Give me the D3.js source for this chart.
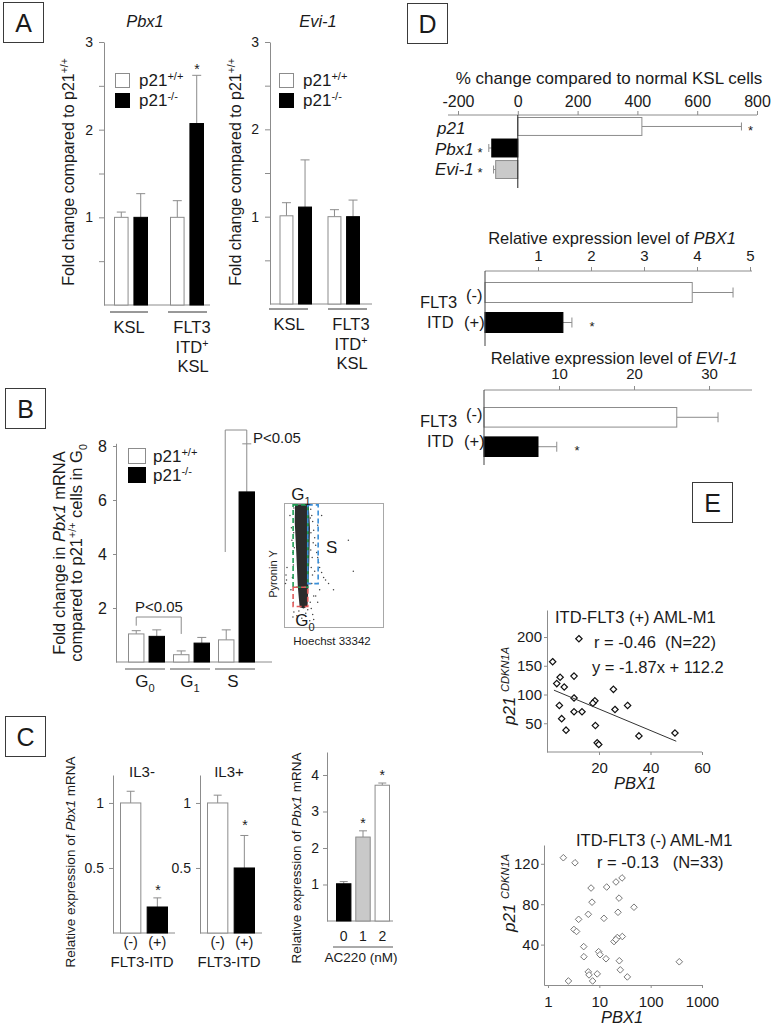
<!DOCTYPE html>
<html><head><meta charset="utf-8">
<script src="https://cdn.jsdelivr.net/npm/d3@7"></script>
<style>html,body{margin:0;padding:0;background:#fff;} svg{display:block;font-family:"Liberation Sans",Arial,sans-serif;}</style>
</head><body><svg id="c" width="774" height="1033"></svg>
<script>
// ===================== DATA =====================
// Panel A
const aGroups = ["KSL", "FLT3 ITD+ KSL"];
const genotypes = ["p21+/+", "p21-/-"];
const aTicks = [0.5, 1, 1.5, 2, 2.5, 3];
const pbx1Wt = [1.0, 1.0];
const pbx1WtErr = [0.06, 0.19];
const pbx1Ko = [1.0, 2.07];
const pbx1KoErr = [0.27, 0.55];
const evi1Wt = [1.01, 1.0];
const evi1WtErr = [0.15, 0.08];
const evi1Ko = [1.11, 1.0];
const evi1KoErr = [0.54, 0.19];
// Panel B
const phases = ["G0", "G1", "S"];
const bTicks = [2, 4, 6, 8];
const bWt = [1.04, 0.27, 0.82];
const bWtErr = [0.12, 0.14, 0.37];
const bKo = [0.95, 0.70, 6.30];
const bKoErr = [0.24, 0.21, 1.78];
// Panel B inset (flow cytometry, Hoechst vs Pyronin Y, arbitrary units)
const coreHoechst = [112, 180, 250, 262, 255, 246, 238, 200, 158, 140, 124, 108];
const corePyronin = [988, 990, 988, 800, 520, 320, 170, 150, 160, 320, 600, 850];
const dotHoechst = [60, 75, 80, 90, 95, 270, 280, 290, 300, 310, 320, 330, 340, 350, 360, 380, 400, 420, 450, 500, 85, 70, 280, 300, 265, 275, 320, 340, 360, 290, 95, 100, 310, 520, 700, 650, 30, 20, 25, 15, 90, 300, 340, 380, 260, 130, 220, 180, 150, 240, 270, 285, 295, 272, 288, 100, 98, 104, 265, 275];
const dotPyronin = [900, 800, 700, 600, 500, 950, 900, 850, 780, 720, 660, 600, 560, 520, 480, 440, 400, 380, 350, 300, 400, 300, 350, 250, 200, 150, 250, 200, 300, 100, 200, 120, 450, 600, 450, 700, 480, 420, 380, 350, 80, 60, 820, 900, 50, 90, 110, 70, 130, 140, 620, 560, 680, 760, 420, 960, 760, 640, 880, 480];
// Panel C
const itdStatus = ["(-)", "(+)"];
const cTicks = [0.5, 1];
const il3Minus = [1.0, 0.20];
const il3MinusErr = [0.09, 0.07];
const il3Plus = [1.0, 0.50];
const il3PlusErr = [0.06, 0.25];
const ac220Dose = ["0", "1", "2"];
const ac220Ticks = [1, 2, 3, 4];
const ac220Expr = [1.02, 2.30, 3.72];
const ac220Err = [0.06, 0.17, 0.06];
// Panel D
const dGenes = ["p21", "Pbx1", "Evi-1"];
const dTicks = [-200, 0, 200, 400, 600, 800];
const dChange = [415, -87, -74];
const dChangeErr = [333, 10, 7];
const pbx1Ticks = [1, 2, 3, 4, 5];
const pbx1Expr = [3.91, 1.47];
const pbx1ExprErr = [0.77, 0.17];
const evi1Ticks = [10, 20, 30];
const evi1Expr = [25.7, 7.2];
const evi1ExprErr = [5.5, 2.5];
// Panel E
const eTopPbx1 = [12.2, 2.0, 4.9, 10.3, 3.6, 6.5, 25.6, 10.3, 18.4, 17.6, 4.6, 31.1, 26.2, 10.3, 13.4, 5.5, 18.6, 7.2, 35.5, 49.5, 19.3, 19.9];
const eTopP21 = [197, 157, 130, 132, 119, 113, 109, 94, 89, 85, 81, 81, 74, 70, 70, 58, 46, 38, 28, 33, 16, 13];
const eTopXTicks = [20, 40, 60];
const eTopYTicks = [50, 100, 150, 200];
const eFitSlope = -1.87, eFitIntercept = 112.2;
const eBotPbx1 = [1.99, 3.36, 27.7, 21.1, 6.9, 13.9, 24.2, 7.2, 47.3, 23.1, 6.1, 3.95, 12.3, 3.2, 3.6, 28.0, 22.4, 19.3, 4.96, 9.7, 10.3, 5.0, 13.5, 24.5, 361, 25.6, 6.1, 9.1, 6.3, 35.1, 7.4, 2.5, 21.0];
const eBotP21 = [126, 121, 106, 102, 96, 97, 86, 82, 77, 72, 70, 65, 66, 55, 53, 48, 47, 43, 38, 33, 30, 28, 26, 24, 23, 15, 13, 11, 10, 8, 4, 4, 45];
const eBotXTicks = [1, 10, 100, 1000];
const eBotYTicks = [40, 80, 120];

// ===================== DRAWING =====================
const svg = d3.select("#c");
const FONT = "Liberation Sans, Arial, sans-serif";
const TXT = "#1a1a1a", AX = "#8c8c8c", ERR = "#8c8c8c", BARSTROKE = "#8c8c8c", GREYBAR = "#c9c9c9";
const fmt = d => String(d);

function rich(t, parts, fs) {
  let shift = 0;
  (Array.isArray(parts) ? parts : [parts]).forEach(p => {
    const [s, k] = Array.isArray(p) ? p : [p, ""];
    let target = 0, small = false;
    if (k.includes("sup")) { target = -fs * 0.38; small = true; }
    if (k.includes("sub")) { target = fs * 0.3; small = true; }
    const ts = t.append("tspan").text(s).attr("dy", (target - shift).toFixed(2));
    shift = target;
    if (small) ts.attr("font-size", (fs * 0.65).toFixed(1));
    if (k.includes("i")) ts.attr("font-style", "italic");
  });
}
function label(x, y, parts, o = {}) {
  const fs = o.fs || 16;
  const t = svg.append("text").attr("font-size", fs).attr("fill", TXT)
    .attr("text-anchor", o.anchor || "start");
  if (o.rot) t.attr("transform", `translate(${x},${y}) rotate(${o.rot})`);
  else t.attr("x", x).attr("y", y);
  if (o.italic) t.attr("font-style", "italic");
  rich(t, parts, fs);
  return t;
}
function box(x, y, letter) {
  svg.append("rect").attr("x", x + 0.5).attr("y", y + 0.5).attr("width", 40).attr("height", 40)
    .attr("fill", "none").attr("stroke", "#3a3a3a").attr("stroke-width", 1);
  svg.append("text").attr("x", x + 20.5).attr("y", y + 29.5).attr("text-anchor", "middle")
    .attr("font-size", 25).attr("fill", TXT).text(letter);
}
function styleAxis(g, fs, col) {
  g.attr("font-family", FONT);
  g.select(".domain").attr("stroke", col || AX);
  g.selectAll(".tick line").attr("stroke", col || AX);
  g.selectAll(".tick text").attr("fill", TXT).attr("font-size", fs);
}
function hline(x1, x2, y, col, w) {
  svg.append("line").attr("x1", x1).attr("x2", x2).attr("y1", y).attr("y2", y)
    .attr("stroke", col || AX).attr("stroke-width", w || 1);
}
function vline(x, y1, y2, col, w) {
  svg.append("line").attr("x1", x).attr("x2", x).attr("y1", y1).attr("y2", y2)
    .attr("stroke", col || AX).attr("stroke-width", w || 1);
}
// vertical bar with upward error bar
function vbars(data, xf, wf, y, capHalf) {
  const g = svg.append("g");
  g.selectAll("line.err").data(data.filter(d => d.e > 0)).join("line")
    .attr("x1", d => xf(d) + wf / 2).attr("x2", d => xf(d) + wf / 2)
    .attr("y1", d => y(d.v)).attr("y2", d => y(d.v + d.e)).attr("stroke", ERR);
  g.selectAll("line.cap").data(data.filter(d => d.e > 0)).join("line")
    .attr("x1", d => xf(d) + wf / 2 - capHalf).attr("x2", d => xf(d) + wf / 2 + capHalf)
    .attr("y1", d => y(d.v + d.e)).attr("y2", d => y(d.v + d.e)).attr("stroke", ERR);
  g.selectAll("rect").data(data).join("rect")
    .attr("x", d => xf(d) + 0.5).attr("y", d => y(d.v)).attr("width", wf - 1)
    .attr("height", d => y(0) - y(d.v))
    .attr("fill", d => d.fill).attr("stroke", d => d.fill === "#000" ? "#000" : BARSTROKE);
}
function star(x, y, fs) {
  svg.append("text").attr("x", x).attr("y", y).attr("text-anchor", "middle")
    .attr("font-size", fs || 13).attr("fill", TXT).text("*");
}

// ---------------- Panel A ----------------
box(3, 2, "A");
function panelA(cfg) {
  const y = d3.scaleLinear().domain([0, 3]).range([cfg.y0, 42]);
  const xg = d3.scaleBand().domain(aGroups).range([cfg.ax, cfg.ax + 2 * cfg.step]);
  const xi = d3.scaleBand().domain(genotypes).range([cfg.i0, cfg.i1]).paddingInner(0.25);
  const data = [];
  aGroups.forEach((g, i) => {
    data.push({ g, k: genotypes[0], v: cfg.wt[i], e: cfg.wtErr[i], fill: "#fff" });
    data.push({ g, k: genotypes[1], v: cfg.ko[i], e: cfg.koErr[i], fill: "#000" });
  });
  hline(cfg.ax, cfg.xEnd, y(0));
  vbars(data, d => xg(d.g) + xi(d.k), xi.bandwidth(), y, 4.5);
  const ax = svg.append("g").attr("transform", `translate(${cfg.ax},0)`)
    .call(d3.axisLeft(y).tickValues(aTicks).tickFormat(d => Number.isInteger(d) ? String(d) : "")
      .tickSize(5).tickPadding(6).tickSizeOuter(0));
  styleAxis(ax, 14);
  label((xg(aGroups[0]) + xg(aGroups[1]) + cfg.step) / 2 + cfg.titleDx, 27, [[cfg.title, "i"]], { fs: 16.5, anchor: "middle" });
  label(cfg.ylabX, 172, ["Fold change compared to p21", ["+/+", "sup"]], { fs: 16, anchor: "middle", rot: -90 });
  // legend
  const lx = cfg.legX;
  svg.append("rect").attr("x", lx + 0.5).attr("y", 73.5).attr("width", 14).attr("height", 14).attr("fill", "#fff").attr("stroke", BARSTROKE);
  svg.append("rect").attr("x", lx + 0.5).attr("y", 93.5).attr("width", 14).attr("height", 14).attr("fill", "#000").attr("stroke", "#000");
  label(lx + 24, 86, ["p21", ["+/+", "sup"]], { fs: 17 });
  label(lx + 24, 106, ["p21", ["-/-", "sup"]], { fs: 17 });
  // group labels
  aGroups.forEach((g, i) => {
    hline(xg(g) + cfg.u0[i], xg(g) + cfg.u1[i], cfg.uy, "#333");
    const cx = xg(g) + cfg.tc[i];
    if (i === 0) label(cx, cfg.ty, "KSL", { fs: 16.5, anchor: "middle" });
    else {
      label(cx, cfg.ty, "FLT3", { fs: 16.5, anchor: "middle" });
      label(cx, cfg.ty + 20, ["ITD", ["+", "sup"]], { fs: 16.5, anchor: "middle" });
      label(cx + 1, cfg.ty + 39, "KSL", { fs: 16.5, anchor: "middle" });
    }
  });
}
panelA({ ax: 104, step: 56, y0: 305, i0: 10, i1: 44, xEnd: 210, wt: pbx1Wt, wtErr: pbx1WtErr, ko: pbx1Ko, koErr: pbx1KoErr,
  title: "Pbx1", titleDx: -15, ylabX: 74, legX: 115, u0: [6, 8], u1: [44, 47], uy: 312, tc: [25, 32], ty: 333 });
star(197, 74, 14);
panelA({ ax: 270, step: 48, y0: 304, i0: 9.5, i1: 42, xEnd: 372, wt: evi1Wt, wtErr: evi1WtErr, ko: evi1Ko, koErr: evi1KoErr,
  title: "Evi-1", titleDx: 0, ylabX: 241, legX: 279, u0: [-1, 10], u1: [38, 49], uy: 309, tc: [19, 33], ty: 330 });

// ---------------- Panel B ----------------
box(5, 388, "B");
(function () {
  const y = d3.scaleLinear().domain([0, 8.1]).range([662, 443.3]);
  const xg = d3.scaleBand().domain(phases).range([125, 260]);
  const xi = d3.scaleBand().domain(genotypes).range([3, 40]).paddingInner(0.2);
  const data = [];
  phases.forEach((p, i) => {
    data.push({ g: p, k: genotypes[0], v: bWt[i], e: bWtErr[i], fill: "#fff" });
    data.push({ g: p, k: genotypes[1], v: bKo[i], e: bKoErr[i], fill: "#000" });
  });
  const bx = d => xg(d.g) + xi(d.k) + xi.bandwidth() / 2;
  svg.append("path").attr("fill", "none").attr("stroke", AX)
    .attr("d", `M${bx(data[0])},${y(data[0].v + data[0].e) - 5}V617H${bx(data[2])}V${y(data[2].v + data[2].e) - 17}`);
  label(135, 612, "P<0.05", { fs: 15 });
  svg.append("path").attr("fill", "none").attr("stroke", AX)
    .attr("d", `M${bx(data[4]) - 1},552V430H${bx(data[5])}V${y(data[5].v + data[5].e)}`);
  label(253, 443, "P<0.05", { fs: 15 });
  hline(116, 272, y(0));
  vbars(data, d => xg(d.g) + xi(d.k), xi.bandwidth(), y, 4.5);
  const ax = svg.append("g").attr("transform", "translate(116,0)")
    .call(d3.axisLeft(y).tickValues(bTicks).tickFormat(fmt).tickSize(3).tickPadding(6).tickSizeOuter(0));
  styleAxis(ax, 16);
  svg.append("rect").attr("x", 128.5).attr("y", 448.5).attr("width", 17).attr("height", 15).attr("fill", "#fff").attr("stroke", BARSTROKE);
  svg.append("rect").attr("x", 128.5).attr("y", 467.5).attr("width", 17).attr("height", 15).attr("fill", "#000").attr("stroke", "#000");
  label(153, 462, ["p21", ["+/+", "sup"]], { fs: 17 });
  label(153, 481, ["p21", ["-/-", "sup"]], { fs: 17 });
  phases.forEach((p, i) => {
    hline(xg(p) + 0, xg(p) + 40, 669, "#555");
    label(xg(p) + 20 + (i === 2 ? -2 : 0), 687, [p[0], [p.slice(1), "sub"]], { fs: 17, anchor: "middle" });
  });
  label(65, 553, ["Fold change in ", ["Pbx1", "i"], " mRNA"], { fs: 16.5, anchor: "middle", rot: -90 });
  label(82, 553, ["compared to p21", ["+/+", "sup"], " cells in G", ["0", "sub"]], { fs: 16.5, anchor: "middle", rot: -90 });
})();
// inset flow plot
(function () {
  const hx = d3.scaleLinear().domain([0, 1000]).range([284, 383]);
  const hy = d3.scaleLinear().domain([0, 1000]).range([627, 503]);
  svg.append("rect").attr("x", hx(0) + 0.5).attr("y", hy(1000) + 0.5).attr("width", hx(1000) - hx(0)).attr("height", hy(0) - hy(1000))
    .attr("fill", "none").attr("stroke", "#a8a8a8");
  const core = coreHoechst.map((h, i) => [hx(h), hy(corePyronin[i])]);
  svg.append("path").attr("d", d3.line().curve(d3.curveLinearClosed)(core)).attr("fill", "#151515").attr("opacity", 0.9);
  svg.append("g").selectAll("circle").data(dotHoechst.map((h, i) => [h, dotPyronin[i]])).join("circle")
    .attr("cx", d => hx(d[0])).attr("cy", d => hy(d[1])).attr("r", 0.75).attr("fill", "#444");
  const gate = (x0, x1, y0, y1, col) => svg.append("rect").attr("x", hx(x0)).attr("y", hy(y1)).attr("width", hx(x1) - hx(x0)).attr("height", hy(y0) - hy(y1))
    .attr("fill", "none").attr("stroke", col).attr("stroke-width", 1.6).attr("stroke-dasharray", "5,3");
  gate(92, 240, 320, 985, "#1f9e55");
  gate(240, 345, 350, 985, "#3a8fd8");
  gate(92, 240, 165, 320, "#e05a5a");
  label(301, 500, ["G", ["1", "sub"]], { fs: 17, anchor: "middle" });
  label(326, 553, "S", { fs: 17 });
  label(305, 626, ["G", ["0", "sub"]], { fs: 17, anchor: "middle" });
  label(277, 574, "Pyronin Y", { fs: 11, anchor: "middle", rot: -90 });
  label(332, 645, "Hoechst 33342", { fs: 11.5, anchor: "middle" });
})();

// ---------------- Panel C ----------------
box(5, 716, "C");
function panelCil3(cfg) {
  const y = d3.scaleLinear().domain([0, 1.215]).range([933, 775]);
  const x = d3.scaleBand().domain(itdStatus).range([cfg.x0, cfg.x0 + 48]).paddingInner(0.2);
  const data = itdStatus.map((s, i) => ({ k: s, v: cfg.v[i], e: cfg.e[i], fill: i === 0 ? "#fff" : "#000" }));
  hline(cfg.ax, cfg.x0 + 55, y(0));
  vbars(data, d => x(d.k), x.bandwidth(), y, 4);
  const ax = svg.append("g").attr("transform", `translate(${cfg.ax},0)`)
    .call(d3.axisLeft(y).tickValues(cTicks).tickFormat(fmt).tickSize(4).tickPadding(5).tickSizeOuter(0));
  styleAxis(ax, 14);
  itdStatus.forEach(s => label(x(s) + x.bandwidth() / 2, 947, s, { fs: 14.5, anchor: "middle" }));
  label(cfg.x0 + 22, 967, "FLT3-ITD", { fs: 15, anchor: "middle" });
  label(cfg.x0 + 22, 777, cfg.title, { fs: 15, anchor: "middle" });
  star(cfg.sx, cfg.sy, 14);
}
panelCil3({ ax: 113, x0: 120, v: il3Minus, e: il3MinusErr, title: "IL3-", sx: 158, sy: 895 });
panelCil3({ ax: 200, x0: 207, v: il3Plus, e: il3PlusErr, title: "IL3+", sx: 245, sy: 830 });
label(75, 862, ["Relative expression of ", ["Pbx1", "i"], " mRNA"], { fs: 13.5, anchor: "middle", rot: -90 });
(function () {
  const y = d3.scaleLinear().domain([0, 4.63]).range([921, 752]);
  const x = d3.scaleBand().domain(ac220Dose).range([336, 390]).paddingInner(0.2);
  const fills = ["#000", GREYBAR, "#fff"];
  const data = ac220Dose.map((d, i) => ({ k: d, v: ac220Expr[i], e: ac220Err[i], fill: fills[i] }));
  hline(327, 393, y(0));
  vbars(data, d => x(d.k), x.bandwidth(), y, 4);
  const ax = svg.append("g").attr("transform", "translate(327,0)")
    .call(d3.axisLeft(y).tickValues(ac220Ticks).tickFormat(fmt).tickSize(4).tickPadding(4).tickSizeOuter(0));
  styleAxis(ax, 14);
  ac220Dose.forEach(d => label(x(d) + x.bandwidth() / 2, 941, d, { fs: 14, anchor: "middle" }));
  hline(333, 393, 947, "#555");
  label(361, 962, "AC220 (nM)", { fs: 13.5, anchor: "middle" });
  star(x("1") + x.bandwidth() / 2, y(2.47) - 3, 14);
  star(x("2") + x.bandwidth() / 2, y(3.78) - 3, 14);
  label(301, 858, ["Relative expression of ", ["Pbx1", "i"], " mRNA"], { fs: 13.5, anchor: "middle", rot: -90 });
})();

// ---------------- Panel D ----------------
box(407, 3, "D");
(function () {
  const x = d3.scaleLinear().domain([-200, 800]).range([458, 757]);
  const y = d3.scaleBand().domain(dGenes).range([117, 179]).paddingInner(0.12);
  label(609, 84, "% change compared to normal KSL cells", { fs: 17, anchor: "middle" });
  const ax = svg.append("g").attr("transform", "translate(0,115)")
    .call(d3.axisTop(x).tickValues(dTicks).tickFormat(fmt).tickSize(4).tickPadding(4).tickSizeOuter(0));
  styleAxis(ax, 16);
  ax.select(".domain").attr("d", "M448,0H757");
  const fills = ["#fff", "#000", GREYBAR];
  const data = dGenes.map((g, i) => ({ g, v: dChange[i], e: dChangeErr[i], fill: fills[i] }));
  const gg = svg.append("g");
  gg.selectAll("line.e").data(data).join("line")
    .attr("x1", d => x(d.v)).attr("x2", d => x(d.v + Math.sign(d.v) * d.e))
    .attr("y1", d => y(d.g) + y.bandwidth() / 2).attr("y2", d => y(d.g) + y.bandwidth() / 2).attr("stroke", ERR);
  gg.selectAll("line.c").data(data).join("line")
    .attr("x1", d => x(d.v + Math.sign(d.v) * d.e)).attr("x2", d => x(d.v + Math.sign(d.v) * d.e))
    .attr("y1", d => y(d.g) + y.bandwidth() / 2 - 4).attr("y2", d => y(d.g) + y.bandwidth() / 2 + 4).attr("stroke", ERR);
  gg.selectAll("rect").data(data).join("rect")
    .attr("x", d => x(Math.min(0, d.v))).attr("y", d => y(d.g) + 0.5)
    .attr("width", d => Math.abs(x(d.v) - x(0))).attr("height", y.bandwidth() - 1)
    .attr("fill", d => d.fill).attr("stroke", d => d.fill === "#000" ? "#000" : BARSTROKE);
  vline(x(0), 115, 188, "#222");
  label(437, 134, [["p21", "i"]], { fs: 17 });
  label(435, 155, [["Pbx1", "i"]], { fs: 17 });
  label(435, 175, [["Evi-1", "i"]], { fs: 17 });
  star(480, 157, 13); star(480, 177, 13);
  star(x(dChange[0] + dChangeErr[0]) + 9, 135, 13);
})();
function panelDexpr(cfg) {
  const x = d3.scaleLinear().domain([0, cfg.max]).range([cfg.x0, cfg.x1]);
  const y = d3.scaleBand().domain(itdStatus).range([cfg.b0, cfg.b1]).paddingInner(0.3);
  label(cfg.tx, cfg.ty, ["Relative expression level of ", [cfg.gene, "i"]], { fs: 16.5, anchor: "middle" });
  const ax = svg.append("g").attr("transform", `translate(0,${cfg.ay})`)
    .call(d3.axisTop(x).tickValues(cfg.ticks).tickFormat(fmt).tickSize(4).tickPadding(cfg.pad).tickSizeOuter(0));
  styleAxis(ax, 15);
  ax.select(".domain").attr("d", `M${cfg.x0},0H752`);
  const data = itdStatus.map((s, i) => ({ k: s, v: cfg.v[i], e: cfg.e[i], fill: i === 0 ? "#fff" : "#000" }));
  const gg = svg.append("g");
  gg.selectAll("line.e").data(data).join("line")
    .attr("x1", d => x(d.v)).attr("x2", d => x(d.v + d.e))
    .attr("y1", d => y(d.k) + y.bandwidth() / 2).attr("y2", d => y(d.k) + y.bandwidth() / 2).attr("stroke", ERR);
  gg.selectAll("line.c").data(data).join("line")
    .attr("x1", d => x(d.v + d.e)).attr("x2", d => x(d.v + d.e))
    .attr("y1", d => y(d.k) + y.bandwidth() / 2 - 5).attr("y2", d => y(d.k) + y.bandwidth() / 2 + 5).attr("stroke", ERR);
  gg.selectAll("rect").data(data).join("rect")
    .attr("x", x(0)).attr("y", d => y(d.k) + 0.5).attr("width", d => x(d.v) - x(0)).attr("height", y.bandwidth() - 1)
    .attr("fill", d => d.fill).attr("stroke", d => d.fill === "#000" ? "#000" : BARSTROKE);
  vline(cfg.x0, cfg.ay, cfg.ay + 75, "#444");
  label(420, cfg.ay + 37, "FLT3", { fs: 16.5 });
  label(427, cfg.ay + 57, "ITD", { fs: 16.5 });
  label(466, cfg.ay + 30, "(-)", { fs: 16.5 });
  label(464, cfg.ay + 57, "(+)", { fs: 16.5 });
  star(cfg.sx, y("(+)") + y.bandwidth() / 2 + 8, 13);
}
panelDexpr({ max: 5, x0: 485, x1: 750, b0: 282, b1: 333, ay: 271, ticks: pbx1Ticks, pad: 6, gene: "PBX1", tx: 612, ty: 244,
  v: pbx1Expr, e: pbx1ExprErr, sx: 592 });
panelDexpr({ max: 35.73, x0: 484, x1: 752, b0: 407, b1: 457, ay: 390, ticks: evi1Ticks, pad: 7, gene: "EVI-1", tx: 614, ty: 364,
  v: evi1Expr, e: evi1ExprErr, sx: 577 });

// ---------------- Panel E ----------------
box(692, 482, "E");
const diamond = r => `M0,${-r}L${r},0L0,${r}L${-r},0Z`;
(function () {
  const x = d3.scaleLinear().domain([0, 60]).range([547.5, 702]);
  const y = d3.scaleLinear().domain([0, 247]).range([752, 610]);
  const ax = svg.append("g").attr("transform", "translate(0,752)")
    .call(d3.axisBottom(x).tickValues(eTopXTicks).tickFormat(fmt).tickSize(3).tickPadding(7).tickSizeOuter(0));
  styleAxis(ax, 15);
  ax.select(".domain").attr("d", "M547,0H702");
  const ay = svg.append("g").attr("transform", "translate(547,0)")
    .call(d3.axisLeft(y).tickValues(eTopYTicks).tickFormat(fmt).tickSize(3).tickPadding(2).tickSizeOuter(0));
  styleAxis(ay, 15);
  const pts = eTopPbx1.map((v, i) => [v, eTopP21[i]]);
  svg.append("g").selectAll("path").data(pts).join("path")
    .attr("d", diamond(3.2)).attr("transform", d => `translate(${x(d[0])},${y(d[1])})`)
    .attr("fill", "#fff").attr("stroke", "#111").attr("stroke-width", 1.2);
  svg.append("line").attr("x1", x(2.5)).attr("x2", x(50))
    .attr("y1", y(eFitSlope * 2.5 + eFitIntercept)).attr("y2", y(eFitSlope * 50 + eFitIntercept)).attr("stroke", "#333");
  label(555, 623, "ITD-FLT3 (+) AML-M1", { fs: 16.5 });
  label(594, 648, "r = -0.46  (N=22)", { fs: 16.5 }).attr("xml:space", "preserve");
  label(592, 673, "y = -1.87x + 112.2", { fs: 16.5 });
  label(635, 789, [["PBX1", "i"]], { fs: 16.5, anchor: "middle" });
  label(515, 686, [["p21 ", "i"], ["CDKN1A", "sup i"]], { fs: 17, anchor: "middle", rot: -90 });
})();
(function () {
  const x = d3.scaleLog().domain([0.836, 1000]).range([544, 702]);
  const y = d3.scaleLinear().domain([0, 138.6]).range([985, 845]);
  const ax = svg.append("g").attr("transform", "translate(0,985)")
    .call(d3.axisBottom(x).tickValues(eBotXTicks).tickFormat(fmt).tickSize(3).tickPadding(8).tickSizeOuter(0));
  styleAxis(ax, 15);
  const ay = svg.append("g").attr("transform", "translate(544,0)")
    .call(d3.axisLeft(y).tickValues(eBotYTicks).tickFormat(fmt).tickSize(3).tickPadding(2).tickSizeOuter(0));
  styleAxis(ay, 15);
  const pts = eBotPbx1.map((v, i) => [v, eBotP21[i]]);
  svg.append("g").selectAll("path").data(pts).join("path")
    .attr("d", diamond(3.3)).attr("transform", d => `translate(${x(d[0])},${y(d[1])})`)
    .attr("fill", "#fff").attr("stroke", "#777").attr("stroke-width", 1);
  label(576, 846, "ITD-FLT3 (-) AML-M1", { fs: 16.5 });
  label(597, 868, "r = -0.13   (N=33)", { fs: 16.5 }).attr("xml:space", "preserve");
  label(622, 1023, [["PBX1", "i"]], { fs: 16.5, anchor: "middle" });
  label(515, 893, [["p21 ", "i"], ["CDKN1A", "sup i"]], { fs: 17, anchor: "middle", rot: -90 });
})();
</script></body></html>
